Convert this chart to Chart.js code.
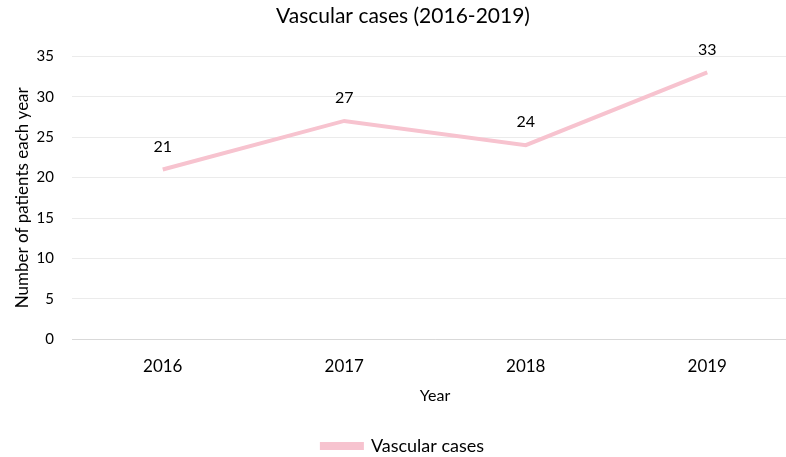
<!DOCTYPE html>
<html>
<head>
<meta charset="utf-8">
<script src="https://cdn.jsdelivr.net/npm/chart.js@4/dist/chart.umd.min.js"></script>
<style>
  html, body { margin: 0; padding: 0; background: #fff; overflow: hidden; }
  #wrap { width: 798px; height: 457px; position: relative; }
</style>
</head>
<body>
<div id="wrap"><canvas id="chart"></canvas></div>
<script>
const years = ['2016', '2017', '2018', '2019'];
const vascularCases = [21, 27, 24, 33];
const yTicks = [0, 5, 10, 15, 20, 25, 30, 35];

const FONT = 'Lato, "Open Sans", sans-serif';
const PINK = '#F7C3CF';

// simple data labels above each point
const pointLabels = {
    id: 'pointLabels',
    afterDatasetsDraw(chart) {
        const ctx = chart.ctx;
        const meta = chart.getDatasetMeta(0);
        ctx.save();
        ctx.font = '16px ' + FONT;
        ctx.fillStyle = '#000';
        ctx.textAlign = 'center';
        ctx.textBaseline = 'middle';
        meta.data.forEach((pt, i) => {
            ctx.fillText(String(vascularCases[i]), pt.x, pt.y - 23);
        });
        ctx.restore();
    }
};

new Chart(document.getElementById('chart'), {
    type: 'line',
    data: {
        labels: years,
        datasets: [{
            label: 'Vascular cases',
            data: vascularCases,
            borderColor: PINK,
            backgroundColor: PINK,
            borderWidth: 4,
            pointRadius: 0,
            tension: 0,
            fill: false
        }]
    },
    options: {
        responsive: true,
        maintainAspectRatio: false,
        animation: false,
        layout: { padding: { left: 8, right: 0, top: 4, bottom: -8 } },
        plugins: {
            title: {
                display: true,
                text: 'Vascular cases (2016-2019)',
                color: '#000',
                font: { family: FONT, size: 21, weight: 'normal' },
                padding: { top: 0, bottom: 27 }
            },
            legend: {
                position: 'bottom',
                labels: {
                    color: '#000',
                    font: { family: FONT, size: 18 },
                    boxWidth: 40,
                    boxHeight: 4,
                    padding: 0
                }
            },
            tooltip: { enabled: false }
        },
        scales: {
            x: {
                offset: true,
                grid: { display: false },
                border: { color: '#d9d9d9' },
                ticks: { color: '#000', font: { family: FONT, size: 17 }, padding: 9 },
                title: {
                    display: true,
                    text: 'Year',
                    color: '#000',
                    font: { family: FONT, size: 16 },
                    padding: { top: 0, bottom: 32 }
                }
            },
            y: {
                min: 0,
                max: 35,
                afterBuildTicks: s => { s.ticks = yTicks.map(v => ({ value: v })); },
                grid: { color: '#ebebeb', drawTicks: false },
                border: { display: false },
                ticks: { color: '#000', font: { family: FONT, size: 15 }, padding: 18 },
                title: {
                    display: true,
                    text: 'Number of patients each year',
                    color: '#000',
                    font: { family: FONT, size: 17 },
                    padding: { bottom: 6 }
                },
                afterFit: s => { s.width = 64; }
            }
        }
    },
    plugins: [pointLabels]
});
</script>
</body>
</html>
